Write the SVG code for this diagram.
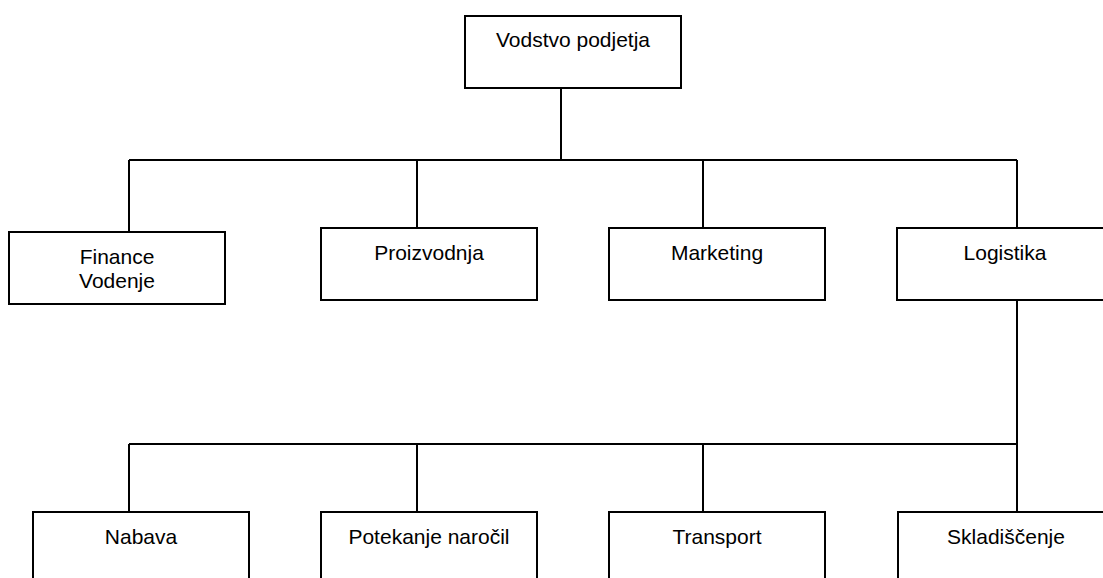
<svg xmlns="http://www.w3.org/2000/svg" width="1103" height="578" viewBox="0 0 1103 578">
  <style>
    .box { fill: #ffffff; stroke: #000000; stroke-width: 2; }
    .lbl { font-family: "Liberation Sans", Arial, sans-serif; font-size: 21px; fill: #000000; text-anchor: middle; }
    .conn { fill: none; stroke: #000000; stroke-width: 2; }
  </style>
  <rect width="1103" height="578" fill="#ffffff"/>

  <!-- tree connectors -->
  <g id="connectors">
    <path class="conn" d="M561 88 V160"/>
    <path class="conn" d="M129 160 H1017"/>
    <path class="conn" d="M129 160 V232"/>
    <path class="conn" d="M417 160 V228"/>
    <path class="conn" d="M703 160 V228"/>
    <path class="conn" d="M1017 160 V228"/>
    <path class="conn" d="M1017 300 V512"/>
    <path class="conn" d="M129 444 H1017"/>
    <path class="conn" d="M129 444 V512"/>
    <path class="conn" d="M417 444 V512"/>
    <path class="conn" d="M703 444 V512"/>
  </g>

  <!-- top level -->
  <g id="vodstvo">
    <rect class="box" x="465" y="16" width="216" height="72"/>
    <text class="lbl" x="573" y="46.5">Vodstvo podjetja</text>
  </g>

  <!-- departments -->
  <g id="finance">
    <rect class="box" x="9" y="232" width="216" height="72"/>
    <text class="lbl" x="117" y="263.5">Finance</text>
    <text class="lbl" x="117" y="288">Vodenje</text>
  </g>
  <g id="proizvodnja">
    <rect class="box" x="321" y="228" width="216" height="72"/>
    <text class="lbl" x="429" y="259.5">Proizvodnja</text>
  </g>
  <g id="marketing">
    <rect class="box" x="609" y="228" width="216" height="72"/>
    <text class="lbl" x="717" y="259.5">Marketing</text>
  </g>
  <g id="logistika">
    <rect class="box" x="897" y="228" width="216" height="72"/>
    <text class="lbl" x="1005" y="259.5">Logistika</text>
  </g>

  <!-- logistics sub-units -->
  <g id="nabava">
    <rect class="box" x="33" y="512" width="216" height="72"/>
    <text class="lbl" x="141" y="543.5">Nabava</text>
  </g>
  <g id="potekanje">
    <rect class="box" x="321" y="512" width="216" height="72"/>
    <text class="lbl" x="429" y="543.5">Potekanje naročil</text>
  </g>
  <g id="transport">
    <rect class="box" x="609" y="512" width="216" height="72"/>
    <text class="lbl" x="717" y="543.5">Transport</text>
  </g>
  <g id="skladiscenje">
    <rect class="box" x="898" y="512" width="216" height="72"/>
    <text class="lbl" x="1006" y="543.5">Skladiščenje</text>
  </g>
</svg>
